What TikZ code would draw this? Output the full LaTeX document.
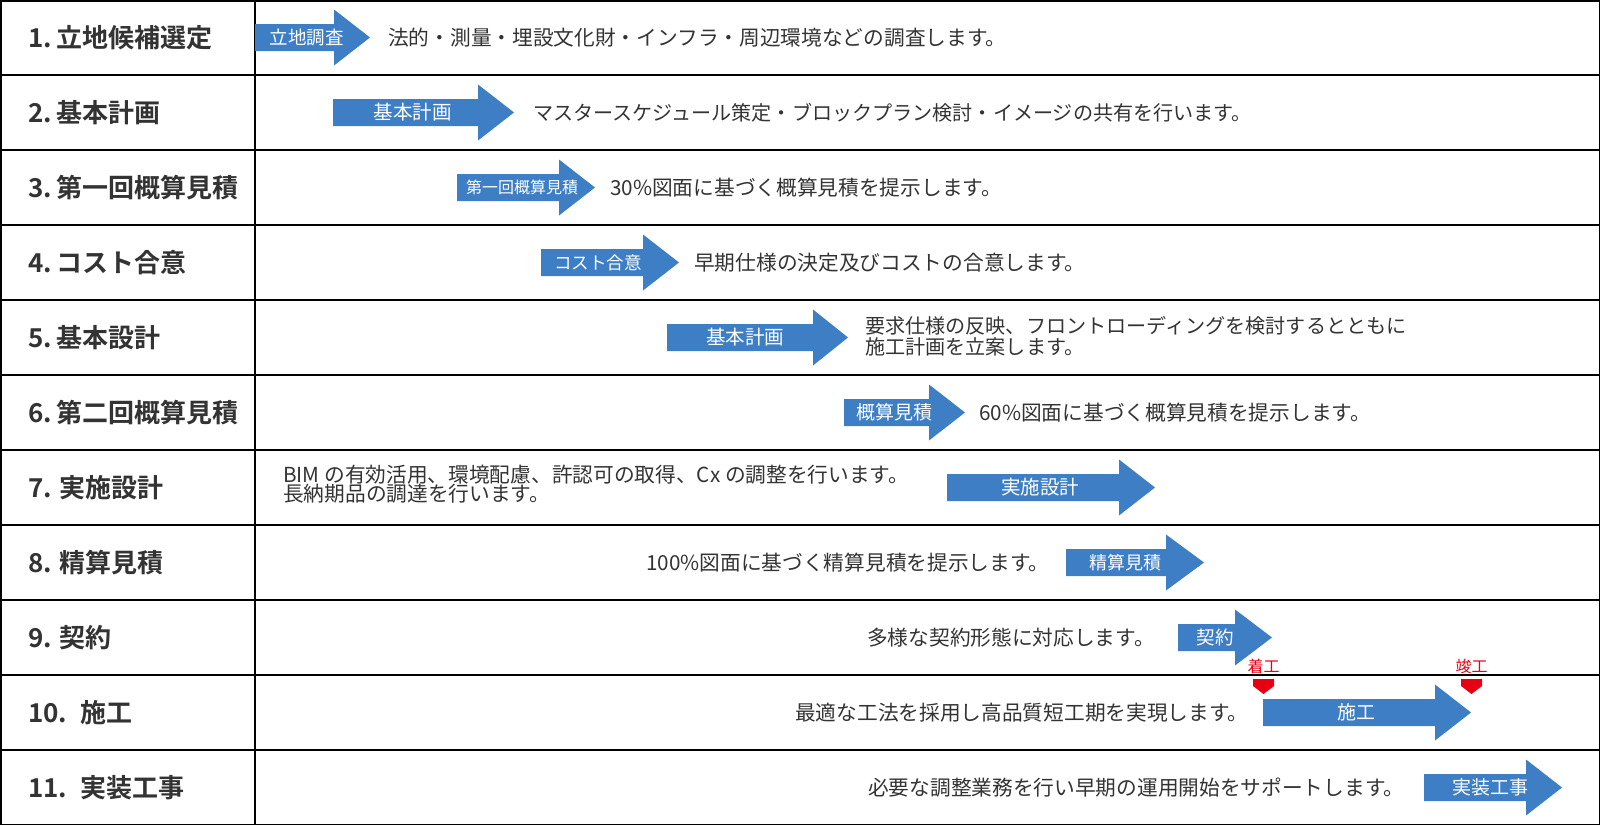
\documentclass[tikz,border=0pt]{standalone}
\usepackage{fontspec}
\setmainfont{Noto Sans CJK JP}[BoldFont={Noto Sans CJK JP Bold}]

\definecolor{flowblue}{RGB}{61,126,197}
\definecolor{txtgray}{RGB}{51,51,51}
\definecolor{markred}{RGB}{230,0,18}

\begin{document}
\begin{tikzpicture}[
		x = 1pt, y = -1pt,
		phase/.style = {anchor=west, inner sep=0, text=txtgray, font=\fontsize{26}{30}\selectfont\bfseries},
		desc/.style = {anchor=west, inner sep=0, align=left, text=txtgray, font=\fontsize{20.7}{21.5}\selectfont},
		arrowtext/.style = {inner sep=0, text=white},
		tableline/.style = {line width=1.5pt},
		marktext/.style = {inner sep=0, text=markred, font=\fontsize{16}{16}\selectfont}
	]

	\useasboundingbox (0,0) rectangle (1600,825);

	% table
	\draw[tableline] (0.75,0.75) rectangle (1599.25,824.25);
	\foreach \r in {1,...,10}{
		\draw[tableline] (0,75*\r) -- (1600,75*\r);
	}
	\draw[tableline] (255,0) -- (255,825);

	% phase names
	\foreach \r/\name in {1/{1.\,立地候補選定}, 2/{2.\,基本計画}, 3/{3.\,第一回概算見積}, 4/{4.\,コスト合意}, 5/{5.\,基本設計}, 6/{6.\,第二回概算見積}, 7/{7. 実施設計}, 8/{8. 精算見積}, 9/{9. 契約}, 10/{10.\enspace 施工}, 11/{11.\enspace 実装工事}}{
		\node[phase] (phase\r) at (28,75*\r-37.5) {\name};
	}

	% arrows
	\foreach \r/\xa/\xb/\xc/\xl/\fs/\txt in {1/255/334/370/306.5/18.5/立地調査, 2/333/478/514/412.5/19.5/基本計画, 3/457/559/595/522/16/第一回概算見積, 4/541/643/679/598/17.5/コスト合意, 5/667/813/848/745/19.5/基本計画, 6/844/929/965/894/19/概算見積, 7/947/1119/1155/1040/19.5/実施設計, 8/1066/1166/1204/1125/18/精算見積, 9/1178/1235/1272/1215/18.5/契約, 10/1263/1435/1471/1356/19/施工, 11/1424/1526/1562/1490/19/実装工事}{
		\pgfmathsetmacro\yc{75*\r-37.5}
		\fill[flowblue] (\xa,\yc-13.5) -- (\xb,\yc-13.5) -- (\xb,\yc-28) -- (\xc,\yc) -- (\xb,\yc+28) -- (\xb,\yc+13.5) -- (\xa,\yc+13.5) -- cycle;
		\node[arrowtext, font=\fontsize{\fs}{\fs}\selectfont] (arrow\r) at (\xl,\yc) {\txt};
	}

	% descriptions
	\node[desc] (desc1) at (388,37.5) {法的・測量・埋設文化財・インフラ・周辺環境などの調査します。};
	\node[desc, font=\fontsize{20.1}{21.5}\selectfont] (desc2) at (533,112.5) {マスタースケジュール策定・ブロックプラン検討・イメージの共有を行います。};
	\node[desc] (desc3) at (610,187.5) {30\%図面に基づく概算見積を提示します。};
	\node[desc] (desc4) at (694,262.5) {早期仕様の決定及びコストの合意します。};
	\node[desc, font=\fontsize{20.1}{21.5}\selectfont] (desc5) at (865,336) {要求仕様の反映、フロントローディングを検討するとともに\\施工計画を立案します。};
	\node[desc] (desc6) at (979,412.5) {60\%図面に基づく概算見積を提示します。};
	\node[desc, font=\fontsize{20.7}{19.5}\selectfont] (desc7) at (283,484) {BIM の有効活用、環境配慮、許認可の取得、Cx の調整を行います。\\長納期品の調達を行います。};
	\node[desc] (desc8) at (646,562.5) {100\%図面に基づく精算見積を提示します。};
	\node[desc] (desc9) at (867,637.5) {多様な契約形態に対応します。};
	\node[desc] (desc10) at (795,712.5) {最適な工法を採用し高品質短工期を実現します。};
	\node[desc] (desc11) at (868,787.5) {必要な調整業務を行い早期の運用開始をサポートします。};

	% start / finish marks
	\foreach \mx/\mt/\nm in {1263.5/着工/start, 1471.5/竣工/finish}{
		\fill[markred] (\mx-10.5,679) -- (\mx+10.5,679) -- (\mx+10.5,686) -- (\mx,694) -- (\mx-10.5,686) -- cycle;
		\node[marktext] (\nm) at (\mx,666) {\mt};
	}

\end{tikzpicture}
\end{document}
